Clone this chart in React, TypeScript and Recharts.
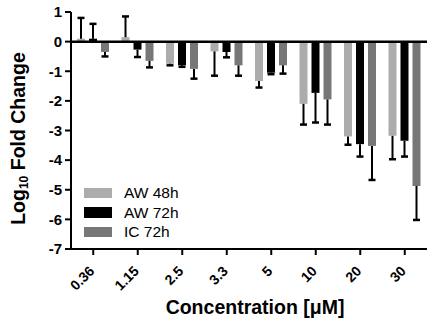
import { BarChart, Bar, XAxis, YAxis, ReferenceLine, Legend } from "recharts"

const concentrations = ["0.36", "1.15", "2.5", "3.3", "5", "10", "20", "30"]

const aw48 = [0.1, 0.15, -0.75, -0.33, -1.33, -2.1, -3.2, -3.18]
const aw48Err = [0.7, 0.7, 0.05, 0.82, 0.22, 0.7, 0.28, 0.79]
const aw72 = [0.1, -0.27, -0.8, -0.35, -1.05, -1.73, -3.46, -3.35]
const aw72Err = [0.5, 0.25, 0.05, 0.18, 0.05, 1.0, 0.42, 0.53]
const ic72 = [-0.35, -0.65, -0.92, -0.8, -0.8, -1.95, -3.52, -4.87]
const ic72Err = [0.15, 0.22, 0.33, 0.35, 0.28, 0.85, 1.15, 1.15]

const seriesNames = ["AW 48h", "AW 72h", "IC 72h"]
const yTicks = [-7, -6, -5, -4, -3, -2, -1, 0, 1]

const FONT = "'Liberation Sans', Arial, Helvetica, sans-serif"

// error segment is stacked on top of its bar, so it takes the sign of the value
const data = concentrations.map((conc, i) => ({
  conc,
  aw48: aw48[i],
  aw48Err: Math.sign(aw48[i]) * aw48Err[i],
  aw72: aw72[i],
  aw72Err: Math.sign(aw72[i]) * aw72Err[i],
  ic72: ic72[i],
  ic72Err: Math.sign(ic72[i]) * ic72Err[i],
}))

// the stacked segment runs from the bar end (y + height) to the tip (y)
const ErrShape = (props: any) => {
  const { x, y, width, height } = props
  const cx = x + width / 2
  return (
    <g>
      <line x1={cx} x2={cx} y1={y + height} y2={y} stroke="#000" strokeWidth={2} />
      <line x1={cx - 3.5} x2={cx + 3.5} y1={y} y2={y} stroke="#000" strokeWidth={2.5} />
    </g>
  )
}

const XTick = (props: any) => {
  const { x, y, payload } = props
  return (
    <g transform={`translate(${x + 2},${y + 15}) rotate(-45)`}>
      <text x={0} y={0} textAnchor="end" fontSize={14} fontWeight="bold" fontFamily={FONT} fill="#000">
        {payload.value}
      </text>
    </g>
  )
}

const YLabel = (props: any) => {
  const { viewBox } = props
  const x = 25
  const y = viewBox.y + viewBox.height / 2 + 8
  return (
    <text
      x={x}
      y={y}
      transform={`rotate(-90, ${x}, ${y})`}
      textAnchor="middle"
      fontSize={19.5}
      fontWeight="bold"
      fontFamily={FONT}
      fill="#000"
    >
      Log
      <tspan fontSize={12} dy={3}>10</tspan>
      <tspan dy={-3}> Fold Change</tspan>
    </text>
  )
}

const XLabel = (props: any) => {
  const { viewBox } = props
  return (
    <text
      x={viewBox.x + viewBox.width / 2 + 6}
      y={314}
      textAnchor="middle"
      fontSize={19.5}
      fontWeight="bold"
      fontFamily={FONT}
      fill="#000"
    >
      Concentration [μM]
    </text>
  )
}

const LegendBox = (props: any) => {
  const items = (props.payload || []).filter((item: any) => seriesNames.includes(item.value))
  return (
    <div style={{ fontFamily: FONT, fontSize: 15.5 }}>
      {items.map((item: any) => (
        <div key={item.value} style={{ display: "flex", alignItems: "center", height: 19.7 }}>
          <div style={{ width: 28, height: 10.5, background: item.color }} />
          <span style={{ marginLeft: 12, color: "#000" }}>{item.value}</span>
        </div>
      ))}
    </div>
  )
}

export default function App() {
  return (
    <div style={{ position: "absolute", left: 0, top: 0 }}>
      <BarChart
        width={427}
        height={322}
        data={data}
        margin={{ top: 12, right: 0, bottom: 0, left: 0 }}
        barSize={8}
        barGap={4}
      >
        <XAxis
          dataKey="conc"
          height={73}
          interval={0}
          tick={<XTick />}
          tickSize={6}
          axisLine={{ stroke: "#000", strokeWidth: 2 }}
          tickLine={{ stroke: "#000", strokeWidth: 2 }}
          label={<XLabel />}
        />
        <YAxis
          width={71}
          domain={[-7, 1]}
          ticks={yTicks}
          interval={0}
          tickSize={6}
          tickMargin={3}
          axisLine={{ stroke: "#000", strokeWidth: 2 }}
          tickLine={{ stroke: "#000", strokeWidth: 2 }}
          tick={{ fill: "#000", fontSize: 15, fontWeight: "bold", fontFamily: FONT }}
          label={<YLabel />}
        />
        <Legend
          layout="horizontal"
          verticalAlign="middle"
          align="center"
          content={<LegendBox />}
          wrapperStyle={{ left: 84, top: 183, width: "auto" }}
        />
        <Bar dataKey="aw48" name={seriesNames[0]} stackId="a48" fill="#acacac" isAnimationActive={false} />
        <Bar dataKey="aw72" name={seriesNames[1]} stackId="a72" fill="#000000" isAnimationActive={false} />
        <Bar dataKey="ic72" name={seriesNames[2]} stackId="ic" fill="#777777" isAnimationActive={false} />
        <Bar dataKey="aw48Err" stackId="a48" legendType="none" fill="none" shape={ErrShape} isAnimationActive={false} />
        <Bar dataKey="aw72Err" stackId="a72" legendType="none" fill="none" shape={ErrShape} isAnimationActive={false} />
        <Bar dataKey="ic72Err" stackId="ic" legendType="none" fill="none" shape={ErrShape} isAnimationActive={false} />
        <ReferenceLine y={0} stroke="#000" strokeWidth={2.5} />
      </BarChart>
    </div>
  )
}
